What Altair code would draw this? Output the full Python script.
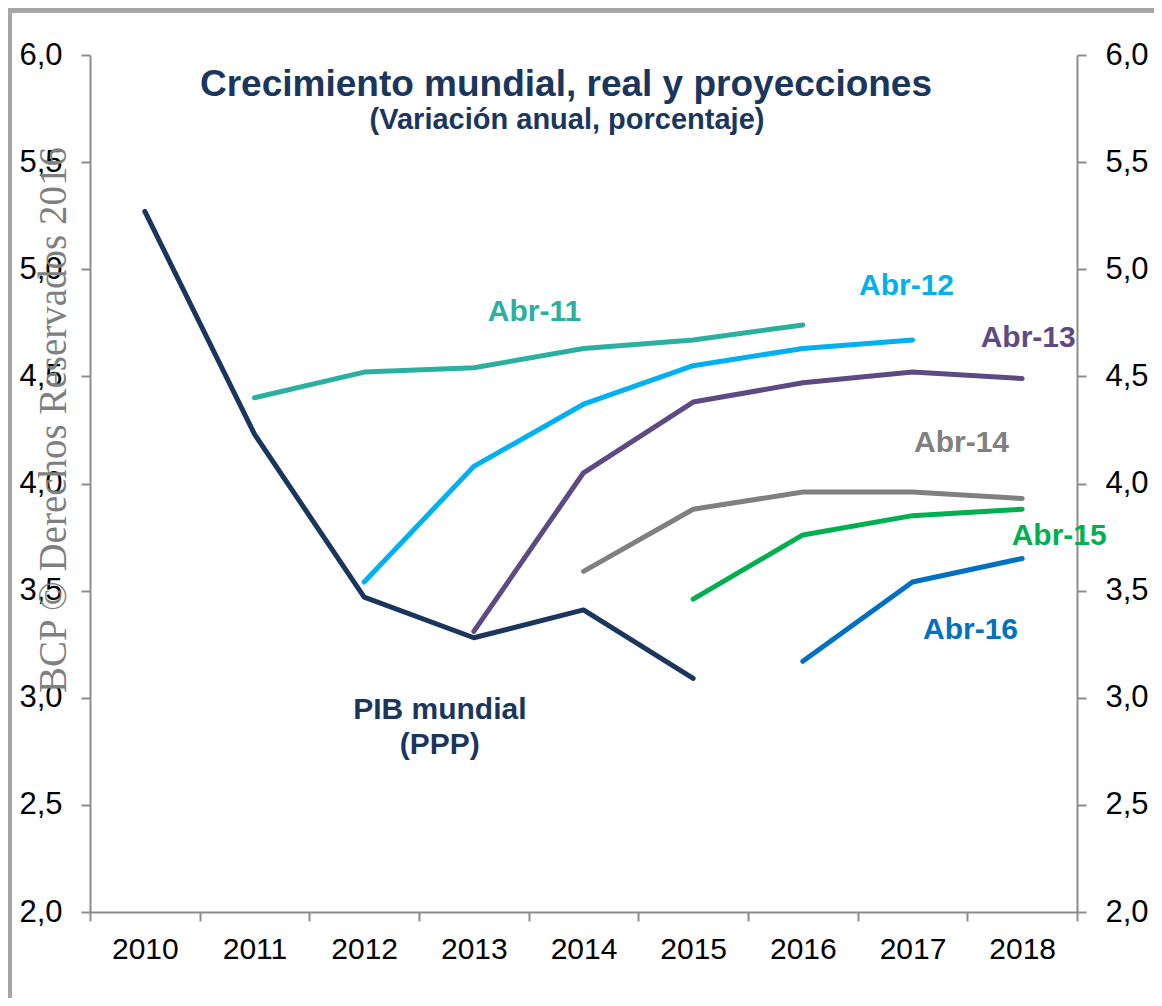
import altair as alt
import pandas as pd

years = ["2010", "2011", "2012", "2013", "2014", "2015", "2016", "2017", "2018"]

series_names = ["PIB mundial", "Abr-11", "Abr-12", "Abr-13", "Abr-14", "Abr-15", "Abr-16"]
series_colors = ["#1B365D", "#2BB09F", "#00B0F0", "#5E4A82", "#808080", "#00B050", "#0070C0"]
series_start = ["2010", "2011", "2012", "2013", "2014", "2015", "2016"]

pib = [5.27, 4.23, 3.47, 3.28, 3.41, 3.09]
abr11 = [4.40, 4.52, 4.54, 4.63, 4.67, 4.74]
abr12 = [3.54, 4.08, 4.37, 4.55, 4.63, 4.67]
abr13 = [3.31, 4.05, 4.38, 4.47, 4.52, 4.49]
abr14 = [3.59, 3.88, 3.96, 3.96, 3.93]
abr15 = [3.46, 3.76, 3.85, 3.88]
abr16 = [3.17, 3.54, 3.65]
series_values = [pib, abr11, abr12, abr13, abr14, abr15, abr16]

# labels: text, anchor year, value, dx, color
label_texts = ["Abr-11", "Abr-12", "Abr-13", "Abr-14", "Abr-15", "Abr-16", "PIB mundial", "(PPP)"]
label_years = ["2014", "2017", "2018", "2017", "2018", "2017", "2013", "2013"]
label_values = [4.80, 4.92, 4.68, 4.19, 3.755, 3.315, 2.943, 2.78]
label_dx = [-49, -6, 6, 49, 37, 58, -34, -34]
label_colors = ["#2BB09F", "#00B0F0", "#5E4A82", "#808080", "#00B050", "#0070C0", "#1B365D", "#1B365D"]

title_text = "Crecimiento mundial, real y proyecciones"
subtitle_text = "(Variación anual, porcentaje)"
watermark_text = "BCP © Derechos Reservados 2016"

rows = []
for name, start, vals in zip(series_names, series_start, series_values):
    i0 = years.index(start)
    for k, v in enumerate(vals):
        rows.append({"serie": name, "year": years[i0 + k], "value": v})
df = pd.DataFrame(rows)

FONT = "Liberation Sans"
NAVY = "#1B365D"
AXIS_GRAY = "#8C8C8C"

xscale = alt.Scale(type="band", domain=years, paddingInner=0, paddingOuter=0)
xaxis = alt.Axis(
    title=None, labelAngle=0, tickBand="extent", labelFont=FONT, labelFontSize=30,
    labelColor="black", labelPadding=13, tickSize=9, tickColor=AXIS_GRAY, tickWidth=2,
    domainColor=AXIS_GRAY, domainWidth=2,
)
yscale = alt.Scale(domain=[2, 6], nice=False, zero=False)
yvals = [2.0, 2.5, 3.0, 3.5, 4.0, 4.5, 5.0, 5.5, 6.0]
label_expr = "replace(format(datum.value, '.1f'), '.', ',')"

def yaxis(orient):
    return alt.Axis(
        orient=orient, values=yvals, labelExpr=label_expr, grid=False, title=None,
        labelFont=FONT, labelFontSize=31, labelColor="black", labelPadding=19,
        tickSize=9, tickColor=AXIS_GRAY, tickWidth=2, domainColor=AXIS_GRAY, domainWidth=2,
    )

lines = alt.Chart(df).mark_line(strokeWidth=5, strokeCap="round", strokeJoin="round").encode(
    x=alt.X("year:O", scale=xscale, axis=xaxis),
    y=alt.Y("value:Q", scale=yscale, axis=yaxis("left")),
    color=alt.Color("serie:N", scale=alt.Scale(domain=series_names, range=series_colors), legend=None),
    detail="serie:N",
)

label_layers = []
for t, yr, v, dx, c in zip(label_texts, label_years, label_values, label_dx, label_colors):
    d = pd.DataFrame({"year": [yr], "value": [v], "t": [t]})
    label_layers.append(
        alt.Chart(d).mark_text(
            font=FONT, fontSize=30, fontWeight="bold", color=c, dx=dx, baseline="middle", align="center"
        ).encode(
            x=alt.X("year:O", scale=xscale, axis=xaxis),
            y=alt.Y("value:Q", scale=yscale, axis=yaxis("left")),
            text="t:N",
        )
    )

inner = alt.layer(lines, *label_layers)

right_axis = alt.Chart(df).mark_line(opacity=0).encode(
    x=alt.X("year:O", scale=xscale, axis=xaxis),
    y=alt.Y("value:Q", scale=yscale, axis=yaxis("right")),
    detail="serie:N",
)

title = alt.Chart(pd.DataFrame({"t": [title_text]})).mark_text(
    font=FONT, fontSize=37, fontWeight="bold", color=NAVY, baseline="alphabetic", align="center"
).encode(x=alt.value(476), y=alt.value(41), text="t:N")

subtitle = alt.Chart(pd.DataFrame({"t": [subtitle_text]})).mark_text(
    font=FONT, fontSize=29, fontWeight="bold", color=NAVY, baseline="alphabetic", align="center"
).encode(x=alt.value(477), y=alt.value(74), text="t:N")

watermark = alt.Chart(pd.DataFrame({"t": [watermark_text]})).mark_text(
    font="Liberation Serif", fontSize=39, color="#7F7F7F", angle=270, baseline="middle", align="center"
).encode(x=alt.value(-36), y=alt.value(365), text="t:N")

border_df = pd.DataFrame({"a": [1]})
border_left = alt.Chart(border_df).mark_rect(color="#A6A6A6").encode(
    x=alt.value(-82), x2=alt.value(-78), y=alt.value(-47), y2=alt.value(960)
)
border_top = alt.Chart(border_df).mark_rect(color="#A6A6A6").encode(
    x=alt.value(-82), x2=alt.value(1080), y=alt.value(-47), y2=alt.value(-42)
)

chart = alt.layer(
    border_left, border_top, inner, right_axis, title, subtitle, watermark
).resolve_axis(y="independent").properties(
    width=987,
    height=857,
    autosize=alt.AutoSizeParams(type="none"),
    padding={"left": 82, "top": 47, "right": 77, "bottom": 86},
    background="white",
).configure_view(stroke=None)

chart.save("out.html", embed_options={"renderer": "svg", "actions": False})
